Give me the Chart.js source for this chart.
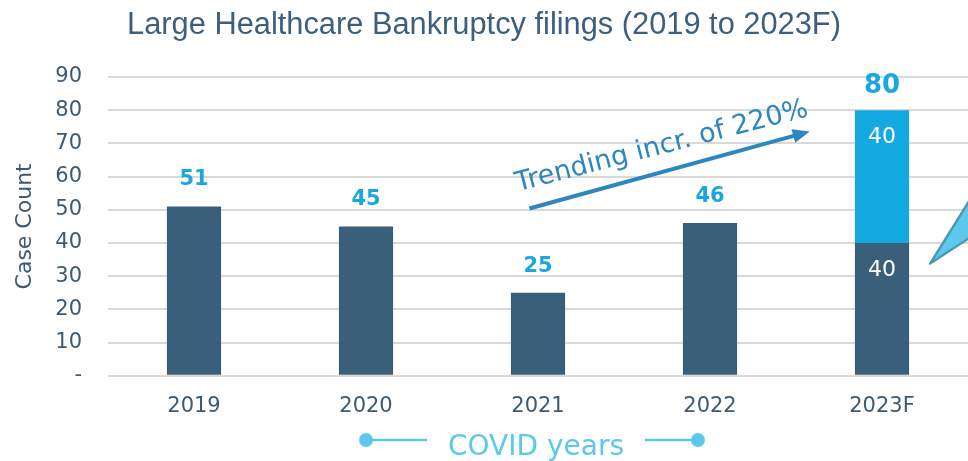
<!DOCTYPE html>
<html><head><meta charset="utf-8">
<script src="https://cdn.jsdelivr.net/npm/chart.js@4.4.1/dist/chart.umd.min.js"></script>
<style>html,body{margin:0;padding:0;background:#fff}#wrap{width:968px;height:461px}</style>
</head><body><div id="wrap"><canvas id="c" width="968" height="461"></canvas></div>
<script>
const categories = ['2019','2020','2021','2022','2023F'];
const filings = [51, 45, 25, 46, 40];
const forecastAdd = [null, null, null, null, 40];
const totals = [51, 45, 25, 46, 80];
const yTicks = [0,10,20,30,40,50,60,70,80,90];
const titleText = 'Large Healthcare Bankruptcy filings (2019 to 2023F)';
const trendText = 'Trending incr. of 220%';
const covidText = 'COVID years';
// annotation anchors in data units (category index, value)
const arrowFrom = [1.95, 50.4];
const arrowTo = [3.58, 73.6];
const trendAnchor = [2.72, 69.0];
const covidSpan = [1, 2.93];
const calloutTip = [4.28, 33.8];

const DARK = '#3a5f7b', LIGHT = '#15a9e1', LABEL = '#1aa7e0', AXIS = '#3d5a73';

const annot = {
  id: 'annot',
  afterDatasetsDraw(chart) {
    const ctx = chart.ctx, xs = chart.scales.x, ys = chart.scales.y;
    const px = v => xs.getPixelForValue(0) + v * (xs.getPixelForValue(1) - xs.getPixelForValue(0));
    ctx.save();
    // value labels
    const m0 = chart.getDatasetMeta(0), m1 = chart.getDatasetMeta(1);
    totals.forEach((t, i) => {
      const isF = forecastAdd[i] != null;
      const bar = isF ? m1.data[i] : m0.data[i];
      ctx.fillStyle = LABEL;
      ctx.textAlign = 'center'; ctx.textBaseline = 'alphabetic';
      ctx.font = isF ? 'bold 26px "DejaVu Sans"' : 'bold 21px "DejaVu Sans"';
      ctx.fillText(String(t), bar.x, bar.y - (isF ? 17 : 21));
    });
    // inside labels
    ctx.fillStyle = '#fff'; ctx.font = '22px "DejaVu Sans"'; ctx.textBaseline = 'middle';
    filings.forEach((v, i) => {
      if (forecastAdd[i] != null) {
        const b0 = m0.data[i];
        ctx.fillText(String(v), b0.x, b0.y + 27);
        const b1 = m1.data[i];
        ctx.fillText(String(forecastAdd[i]), b1.x, b1.y + 27);
      }
    });
    // arrow
    const x1 = px(arrowFrom[0]), y1 = ys.getPixelForValue(arrowFrom[1]);
    const x2 = px(arrowTo[0]), y2 = ys.getPixelForValue(arrowTo[1]);
    const ang = Math.atan2(y2 - y1, x2 - x1);
    ctx.strokeStyle = '#2e86c1'; ctx.fillStyle = '#2e86c1'; ctx.lineWidth = 4;
    ctx.beginPath(); ctx.moveTo(x1, y1);
    ctx.lineTo(x2 - 12 * Math.cos(ang), y2 - 12 * Math.sin(ang)); ctx.stroke();
    ctx.beginPath(); ctx.moveTo(x2, y2);
    ctx.lineTo(x2 - 17 * Math.cos(ang) + 7 * Math.sin(ang), y2 - 17 * Math.sin(ang) - 7 * Math.cos(ang));
    ctx.lineTo(x2 - 17 * Math.cos(ang) - 7 * Math.sin(ang), y2 - 17 * Math.sin(ang) + 7 * Math.cos(ang));
    ctx.closePath(); ctx.fill();
    // trend text
    ctx.save();
    ctx.translate(px(trendAnchor[0]), ys.getPixelForValue(trendAnchor[1]));
    ctx.rotate(-14.5 * Math.PI / 180);
    ctx.font = '27px "DejaVu Sans"'; ctx.textAlign = 'center'; ctx.textBaseline = 'middle';
    ctx.fillText(trendText, 0, 0);
    ctx.restore();
    // callout triangle (cut off at right)
    const tx = px(calloutTip[0]), ty = ys.getPixelForValue(calloutTip[1]);
    ctx.beginPath(); ctx.moveTo(tx, ty);
    ctx.lineTo(chart.width + 2, ty - 64);
    ctx.lineTo(chart.width + 2, ty - 26);
    ctx.closePath();
    ctx.fillStyle = '#5cc8ec'; ctx.fill();
    ctx.strokeStyle = '#4a9ab3'; ctx.lineWidth = 2.5; ctx.lineJoin = 'round'; ctx.stroke();
    // COVID years
    const cy = chart.height - 21;
    const ca = px(covidSpan[0]), cb = px(covidSpan[1]), cm = (ca + cb) / 2;
    ctx.font = '28px "DejaVu Sans"'; ctx.fillStyle = '#5cc8ec';
    ctx.textAlign = 'center'; ctx.textBaseline = 'middle';
    ctx.fillText(covidText, cm + 4, cy + 8);
    ctx.strokeStyle = '#5cc8ec'; ctx.lineWidth = 2.5;
    ctx.beginPath(); ctx.moveTo(ca, cy); ctx.lineTo(ca + 61, cy); ctx.stroke();
    ctx.beginPath(); ctx.moveTo(cb - 53, cy); ctx.lineTo(cb, cy); ctx.stroke();
    ctx.beginPath(); ctx.arc(ca, cy, 7, 0, Math.PI * 2); ctx.fill();
    ctx.beginPath(); ctx.arc(cb, cy, 7, 0, Math.PI * 2); ctx.fill();
    ctx.restore();
  }
};

new Chart(document.getElementById('c'), {
  type: 'bar',
  data: {
    labels: categories,
    datasets: [
      { data: filings, backgroundColor: DARK, stack: 's', barPercentage: 0.63, categoryPercentage: 0.5 },
      { data: forecastAdd, backgroundColor: LIGHT, stack: 's', barPercentage: 0.63, categoryPercentage: 0.5 }
    ]
  },
  options: {
    responsive: false, animation: false, devicePixelRatio: 1,
    layout: { padding: { left: 0, right: 0, top: 0, bottom: 32 } },
    plugins: {
      legend: { display: false }, tooltip: { enabled: false },
      title: { display: true, text: titleText, color: '#3d5f7d',
        font: { family: '"Liberation Sans Narrow", "Liberation Sans"', size: 30.8, weight: 'normal' },
        padding: { top: 7, bottom: 33 } }
    },
    scales: {
      x: { stacked: true, grid: { display: false }, border: { display: false },
        ticks: { color: AXIS, font: { family: '"DejaVu Sans"', size: 21 }, padding: 10 } },
      y: { stacked: true, min: 0, max: 90, afterFit(s) { s.width = 108; },
        afterBuildTicks(s) { s.ticks = yTicks.map(v => ({ value: v })); },
        grid: { color: '#d9d9d9', lineWidth: 2, drawTicks: false }, border: { display: false },
        ticks: { color: AXIS, font: { family: '"DejaVu Sans"', size: 21 }, padding: 26,
          callback: v => v === 0 ? '-' : String(v) },
        title: { display: true, text: 'Case Count', color: AXIS,
          font: { family: '"DejaVu Sans"', size: 22 }, padding: { top: 12, bottom: 0 } } }
    }
  },
  plugins: [annot]
});
</script></body></html>
